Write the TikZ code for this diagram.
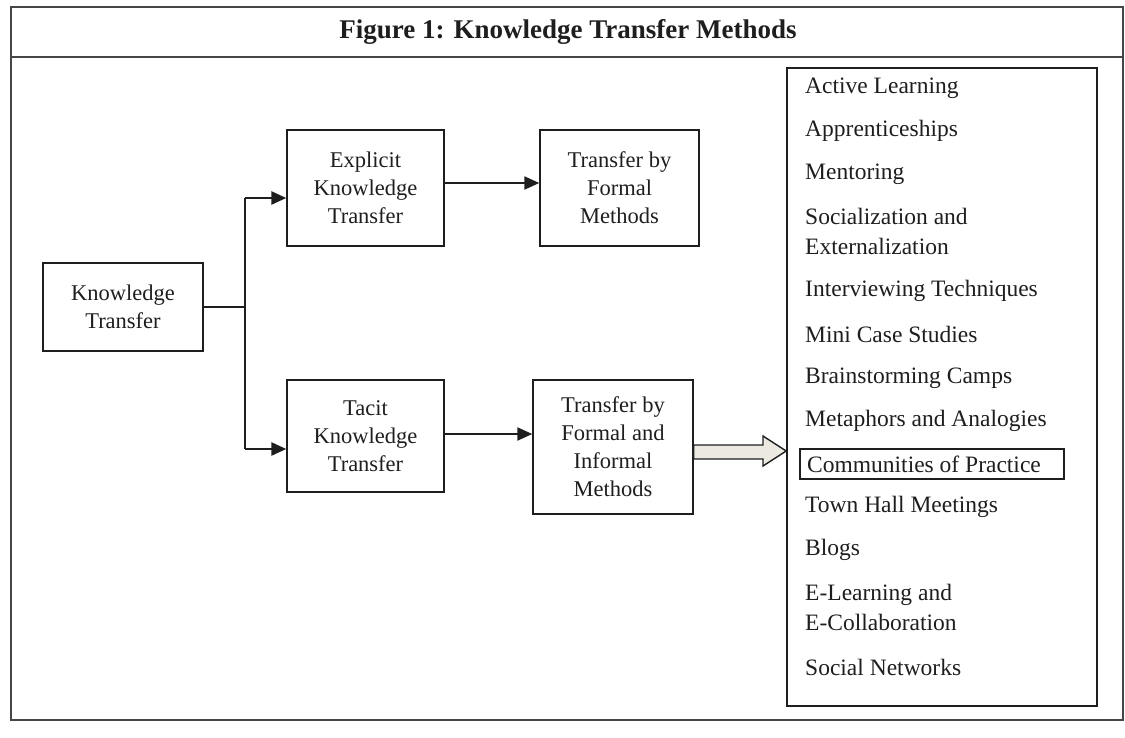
\documentclass[tikz,border=0pt]{standalone}
\usepackage{fontspec}
\setmainfont{Liberation Serif}
\usetikzlibrary{arrows.meta}
\definecolor{ink}{RGB}{30,30,30}
\definecolor{framegray}{RGB}{70,70,70}
\definecolor{arrowfill}{RGB}{236,234,224}
\tikzset{
  box/.style={draw=ink, line width=1.4pt, align=center, inner sep=0pt,
    font=\fontsize{22.5}{28}\selectfont, text=ink},
  item/.style={anchor=west, align=left, inner sep=0pt, text=ink,
    font=\fontsize{23.5}{30}\selectfont},
  flow/.style={draw=ink, line width=2.6pt, -{Triangle[length=15pt,width=13pt]}},
  wire/.style={draw=ink, line width=1.4pt}
}
\begin{document}
\begin{tikzpicture}[x=1pt,y=-1pt]
  \useasboundingbox (0,0) rectangle (1125,737);
  % outer frame and title bar
  \draw[framegray, line width=1.4pt] (11,7) rectangle (1123,720);
  \draw[framegray, line width=1.4pt] (11,57) -- (1123,57);
  \node[font=\fontsize{27}{32}\selectfont\bfseries, text=ink] (title) at (568,32)
    {Figure 1: Knowledge Transfer Methods};

  % main boxes
  \node[box, minimum width=160pt, minimum height=88pt] (kt) at (123,307)
    {Knowledge\\Transfer};
  \node[box, minimum width=157pt, minimum height=116pt] (ekt) at (365.5,188)
    {Explicit\\Knowledge\\Transfer};
  \node[box, minimum width=159pt, minimum height=116pt] (tfm) at (619.5,188)
    {Transfer by\\Formal\\Methods};
  \node[box, minimum width=157pt, minimum height=112pt] (tkt) at (365.5,436)
    {Tacit\\Knowledge\\Transfer};
  \node[box, minimum width=160pt, minimum height=134pt] (tfi) at (613,447)
    {Transfer by\\Formal and\\Informal\\Methods};

  % branch from Knowledge Transfer
  \coordinate (fork) at (245,307);
  \coordinate (forktop) at (245,198);
  \coordinate (forkbot) at (245,449);
  \draw[wire] (kt.east |- fork) -- (fork);
  \draw[wire] (forktop) -- (forkbot);
  \draw[flow] (forktop) -- (ekt.west |- forktop);
  \draw[flow] (forkbot) -- (tkt.west |- forkbot);

  % arrows to the method boxes
  \coordinate (upper) at (0,183);
  \coordinate (lower) at (0,434);
  \draw[flow, line width=2.2pt] (ekt.east |- upper) -- (tfm.west |- upper);
  \draw[flow, line width=2.2pt] (tkt.east |- lower) -- (tfi.west |- lower);

  % list of methods
  \node[draw=ink, line width=1.6pt, minimum width=310pt, minimum height=638pt,
    inner sep=0pt] (list) at (942,387) {};
  \node[item] (i1)  at (805,88)  {Active Learning};
  \node[item] (i2)  at (805,131) {Apprenticeships};
  \node[item] (i3)  at (805,174) {Mentoring};
  \node[item] (i4)  at (805,231) {Socialization and\\Externalization};
  \node[item] (i5)  at (805,291) {Interviewing Techniques};
  \node[item] (i6)  at (805,334) {Mini Case Studies};
  \node[item] (i7)  at (805,378) {Brainstorming Camps};
  \node[item] (i8)  at (805,421) {Metaphors and Analogies};
  \node[draw=ink, line width=1.4pt, minimum width=264pt, minimum height=30pt,
    inner sep=0pt] (cpbox) at (932,464) {};
  \node[item] (i9)  at (807,464) {Communities of Practice};
  \node[item] (i10) at (805,507) {Town Hall Meetings};
  \node[item] (i11) at (805,550) {Blogs};
  \node[item] (i12) at (805,607) {E-Learning and\\E-Collaboration};
  \node[item] (i13) at (805,667) {Social Networks};

  % block arrow into the list
  \draw[draw=ink, line width=1.4pt, fill=arrowfill]
    (tfi.east |- 0,445) -- (763,445) -- (763,436) -- (list.west |- 0,451)
    -- (763,466) -- (763,459) -- (tfi.east |- 0,459) -- cycle;
\end{tikzpicture}
\end{document}
